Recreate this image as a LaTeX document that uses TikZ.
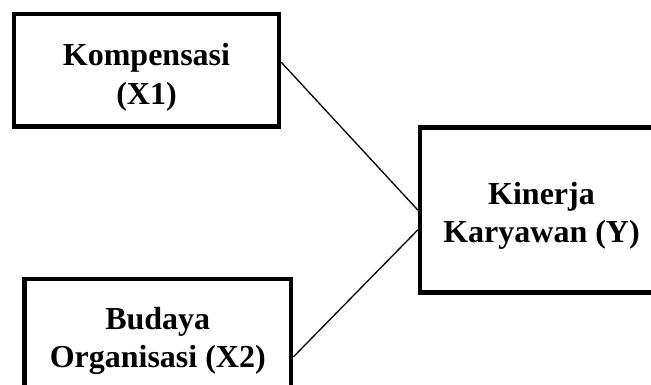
\documentclass[tikz,border=0pt]{standalone}
\usepackage{fontspec}
\setmainfont{Liberation Serif}

\begin{document}
\begin{tikzpicture}[x=1pt, y=1pt,
        every node/.style={font=\bfseries\fontsize{32}{38.5}\selectfont, align=center},
        varbox/.style={draw, line width=4.5pt, rectangle, inner sep=0pt},
        link/.style={line width=1.3pt}]

    \useasboundingbox (0,0) rectangle (651,385);
    \clip (0,0) rectangle (651,385);

    \node[varbox, minimum width=265pt, minimum height=112.5pt] (komp) at (146.5,314.75) {};
    \node[varbox, minimum width=266.5pt, minimum height=112pt] (budaya) at (157.75,50) {};
    \node[varbox, minimum width=243pt, minimum height=165pt] (kinerja) at (541.5,175) {};

    % text sits a little below the centre of each box
    \node (kompText) at ([yshift=-7pt]komp.center) {Kompensasi\\(X1)};
    \node (budayaText) at ([yshift=-6pt]budaya.center) {Budaya\\Organisasi (X2)};
    \node (kinerjaText) at ([yshift=-6pt]kinerja.center) {Kinerja\\Karyawan (Y)};

    \draw[link] ([yshift=8pt]komp.east) -- (kinerja.west);
    \draw[link] ([yshift=-22pt]budaya.east) -- ([yshift=-20pt]kinerja.west);
\end{tikzpicture}
\end{document}
